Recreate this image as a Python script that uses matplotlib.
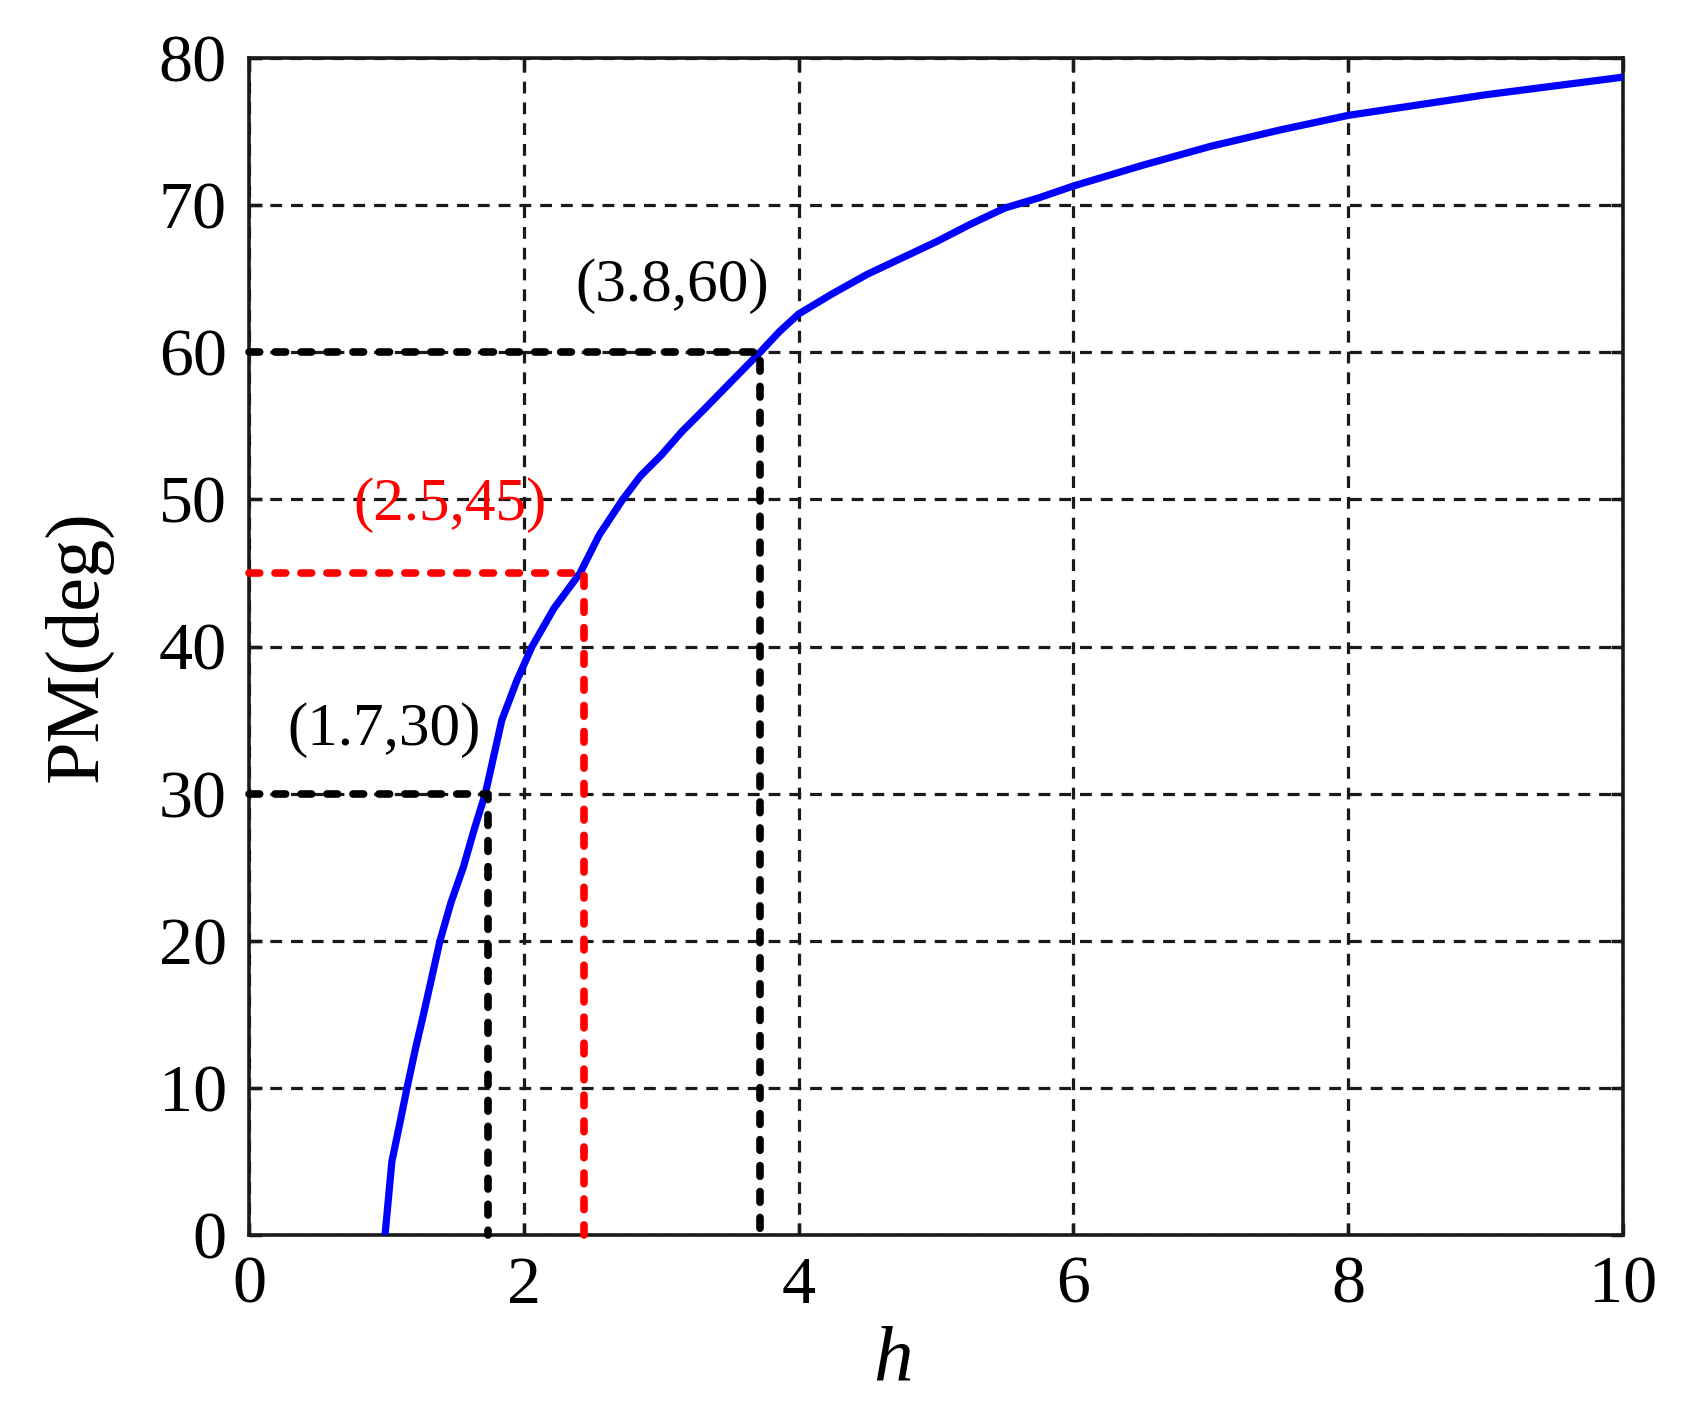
import matplotlib
matplotlib.use("Agg")
import matplotlib.pyplot as plt

# ---- data ----
h_vals = [0.99, 1.04, 1.10, 1.15, 1.21, 1.27, 1.33, 1.39, 1.47, 1.56, 1.64, 1.72,
          1.78, 1.84, 1.95, 2.06, 2.22, 2.41, 2.55, 2.72, 2.85, 3.00, 3.15, 3.30,
          3.52, 3.72, 3.86, 4.00, 4.25, 4.50, 4.75, 5.00, 5.25, 5.50, 5.75, 6.00,
          6.50, 7.00, 7.50, 8.00, 8.50, 9.00, 9.50, 10.0]
pm_vals = [0, 5, 7.7, 10, 12.6, 15, 17.5, 20, 22.6, 25, 27.6, 30,
           32.5, 35, 37.7, 40, 42.6, 45, 47.6, 50, 51.6, 53, 54.6, 56,
           58.1, 60, 61.4, 62.6, 64.0, 65.3, 66.4, 67.5, 68.7, 69.8, 70.5, 71.3,
           72.7, 74.0, 75.1, 76.1, 76.8, 77.5, 78.1, 78.7]

mark_h = [1.74, 2.44, 3.72]
mark_pm = [30, 45, 60]
mark_colors = ["black", "#ff0000", "black"]
mark_labels = ["(1.7,30)", "(2.5,45)", "(3.8,60)"]
label_pos_h = [0.98, 1.46, 3.08]
label_pos_pm = [34.3, 49.6, 64.5]

xticks = [0, 2, 4, 6, 8, 10]
yticks = [0, 10, 20, 30, 40, 50, 60, 70, 80]

plt.rcParams['font.family'] = ['Liberation Serif', 'DejaVu Serif']

W, H = 1683, 1422
fig = plt.figure(figsize=(W / 100, H / 100), dpi=100)
L, R, T, B = 249, 1623, 58, 1235
ax = fig.add_axes([L / W, 1 - B / H, (R - L) / W, (B - T) / H])

ax.set_xlim(0, 10)
ax.set_ylim(0, 80)
ax.set_xticks(xticks)
ax.set_yticks(yticks)

ax.grid(True, color="#1a1a1a", linewidth=2.3, linestyle=(0, (3.7, 2.8)))
ax.set_axisbelow(True)

for sp in ax.spines.values():
    sp.set_linewidth(2.6)
    sp.set_color("#1a1a1a")

ax.tick_params(direction="in", length=9, width=2.5, top=True, right=True,
               labelsize=49, color="#1a1a1a")
ax.tick_params(axis="y", pad=16)
ax.tick_params(axis="x", pad=15)

# main curve
ax.plot(h_vals, pm_vals, color="#0000ff", linewidth=5.2, zorder=3,
        solid_capstyle="butt", solid_joinstyle="round")

# marker lines
for hx, pm, c in zip(mark_h, mark_pm, mark_colors):
    ax.plot([0, hx, hx], [pm, pm, 0], color=c, linewidth=5.5,
            linestyle=(0, (1.4, 2.0)), dash_capstyle="round", zorder=4,
            clip_on=False)

for txt, xh, yp, c in zip(mark_labels, label_pos_h, label_pos_pm, mark_colors):
    ax.text(xh, yp, txt, color=c, fontsize=44, ha="center", va="center", zorder=5)

ax.set_ylabel("PM(deg)", fontsize=55, va="center")
ax.yaxis.set_label_coords((78 - L) / (R - L), 0.5)
ax.set_xlabel("h", fontsize=57, fontstyle="italic", va="center")
ax.xaxis.set_label_coords((893 - L) / (R - L), (B - 1362) / (B - T))

fig.savefig("out.png", dpi=100, facecolor="white")
